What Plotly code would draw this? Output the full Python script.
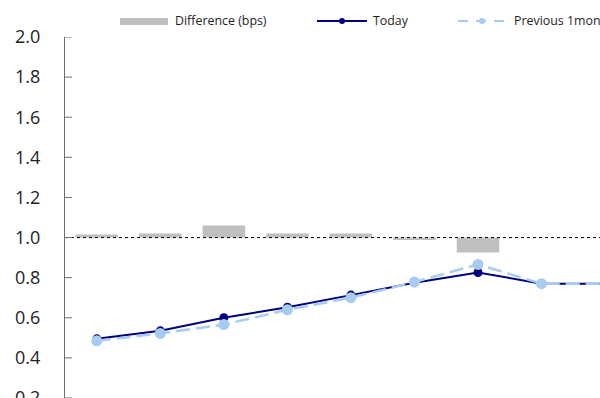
import plotly.graph_objects as go

# Curve tenors and yields (%)
tenors = ["1Y", "2Y", "3Y", "4Y", "5Y", "7Y", "10Y", "15Y", "20Y"]
today = [0.495, 0.535, 0.600, 0.653, 0.713, 0.775, 0.826, 0.770, 0.770]
prev_1m = [0.485, 0.522, 0.566, 0.640, 0.700, 0.778, 0.866, 0.770, 0.770]
diff_bps = [1.5, 2.0, 6.0, 2.0, 2.0, -1.2, -7.5, 0.0, 0.0]
y_ticks = [0.2, 0.4, 0.6, 0.8, 1.0, 1.2, 1.4, 1.6, 1.8, 2.0]
Y_RANGE = [0.2, 2.0]

BAR_BASE = 1.0
NAVY = "#000080"
LIGHT = "#A7CBF1"
GREY = "#BFBFBF"
AXIS = "#6E6E6E"
FONT = "Open Sans, Noto Sans, sans-serif"
TXT = "#1E1E1E"

W, H = 600, 398
ML, MR, MT, MB = 65, 0, 37, 0

fig = go.Figure()

fig.add_trace(go.Bar(
    x=tenors, y=[d / 100 for d in diff_bps], base=BAR_BASE,
    width=0.67, marker=dict(color=GREY, line=dict(width=0)),
    name="Difference (bps)", showlegend=False,
))
fig.add_trace(go.Scatter(
    x=tenors, y=today, mode="lines+markers", name="Today",
    line=dict(color=NAVY, width=2),
    marker=dict(color=NAVY, size=9), showlegend=False,
))
fig.add_trace(go.Scatter(
    x=tenors, y=prev_1m, mode="lines+markers", name="Previous 1month",
    line=dict(color=LIGHT, width=2.5, dash="14px,6px"),
    marker=dict(color=LIGHT, size=11), showlegend=False,
))

fig.add_hline(y=BAR_BASE, line=dict(color="#000000", width=1, dash="dot"))


# Legend drawn along the top margin (pixel positions converted to paper units)
def px(xp):
    return (xp - ML) / (W - ML - MR)


def py(yp):
    return 1 - (yp - MT) / (H - MT - MB)


shapes = [
    dict(type="rect", xref="paper", yref="paper",
         x0=px(120), x1=px(168), y0=py(25), y1=py(18),
         fillcolor=GREY, line=dict(width=0)),
    dict(type="line", xref="paper", yref="paper",
         x0=px(317), x1=px(367), y0=py(21), y1=py(21),
         line=dict(color=NAVY, width=2)),
    dict(type="circle", xref="paper", yref="paper",
         x0=px(339), x1=px(345), y0=py(24), y1=py(18),
         fillcolor=NAVY, line=dict(width=0)),
    dict(type="line", xref="paper", yref="paper",
         x0=px(458), x1=px(507), y0=py(21), y1=py(21),
         line=dict(color=LIGHT, width=2, dash="10px,8px")),
    dict(type="circle", xref="paper", yref="paper",
         x0=px(479), x1=px(485), y0=py(24), y1=py(18),
         fillcolor=LIGHT, line=dict(width=0)),
]
for s in shapes:
    fig.add_shape(**s)

# Inward tick marks on the value axis
for v in y_ticks:
    fig.add_shape(type="line", xref="paper", yref="y",
                  x0=0, x1=px(ML + 7), y0=v, y1=v,
                  line=dict(color=AXIS, width=1))

for label, xpos in [("Difference (bps)", 173), ("Today", 371), ("Previous 1month", 512)]:
    fig.add_annotation(
        text=label, xref="paper", yref="paper", x=px(xpos), y=py(21),
        xanchor="left", yanchor="middle", showarrow=False,
        font=dict(family=FONT, size=12.4, color=TXT),
    )

fig.update_layout(
    width=W, height=H,
    margin=dict(l=ML, r=MR, t=MT, b=MB, pad=0),
    plot_bgcolor="white", paper_bgcolor="white",
    barmode="overlay", showlegend=False,
    font=dict(family=FONT, color=TXT),
)
fig.update_xaxes(
    type="category", range=[-0.5, 7.92], showgrid=False, zeroline=False,
    showline=False, showticklabels=False, ticks="", automargin=False,
)
fig.update_yaxes(
    range=Y_RANGE, tickmode="array", tickvals=y_ticks,
    ticktext=[f"{v:.1f}" for v in y_ticks],
    showgrid=False, zeroline=False, showline=True, linecolor=AXIS, linewidth=1,
    ticks="", tickfont=dict(family=FONT, size=18, color=TXT),
    ticklabelstandoff=20, ticklabeloverflow="allow", automargin=False,
)

fig.write_html("out.html")
